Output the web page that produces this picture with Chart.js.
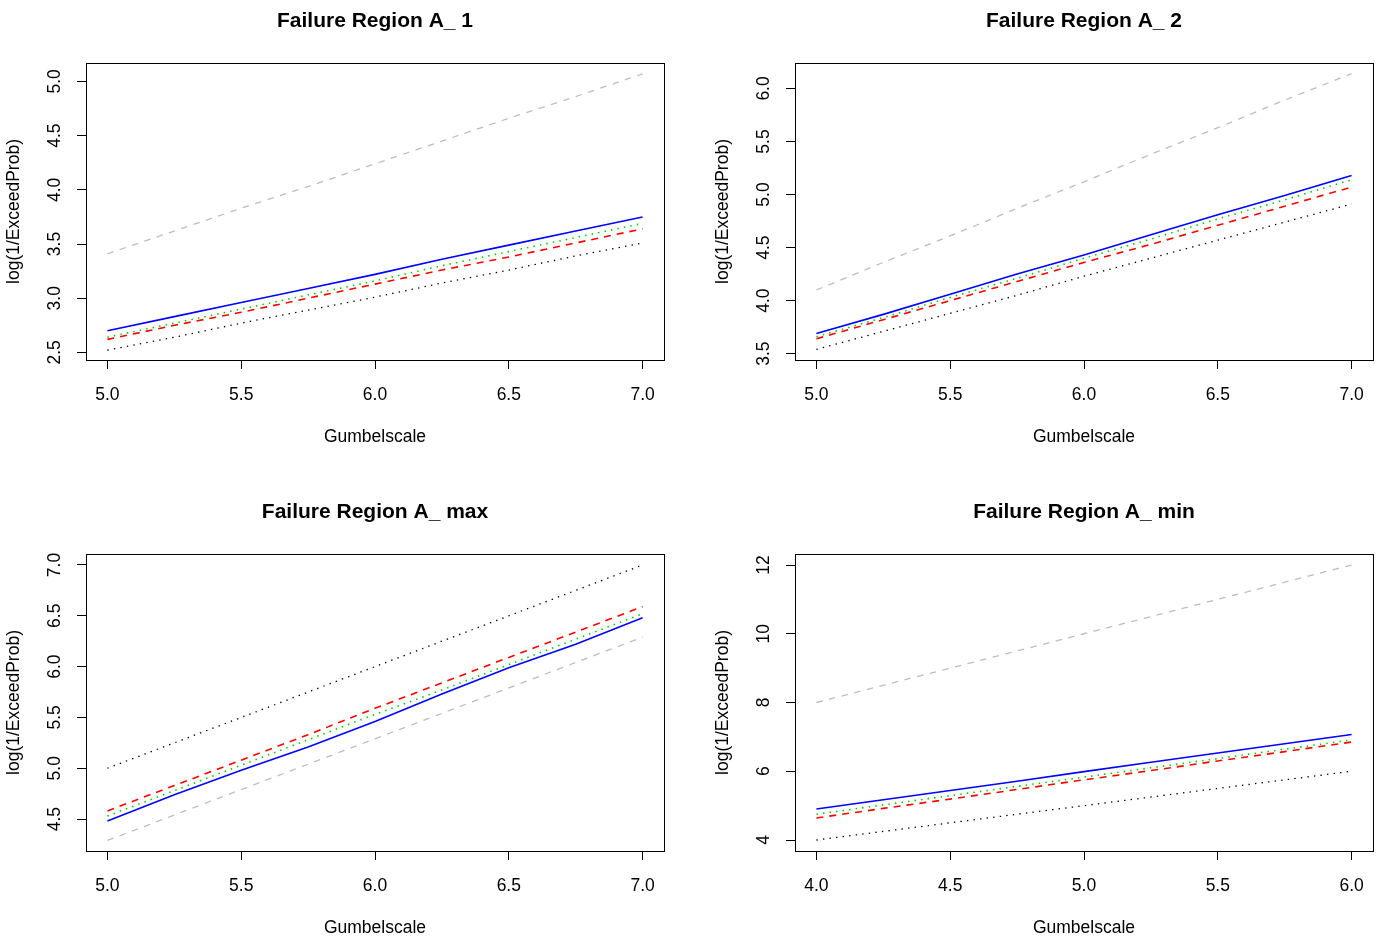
<!DOCTYPE html>
<html>
<head>
<meta charset="utf-8">
<script src="https://cdn.jsdelivr.net/npm/chart.js@4.4.1/dist/chart.umd.min.js"></script>
<style>
  body { margin: 0; background: #fff; width: 1381px; height: 939px; overflow: hidden; position: relative; }
  canvas { position: absolute; }
</style>
</head>
<body>
<canvas id="g1" width="690" height="448" style="left:0;top:0"></canvas>
<canvas id="g2" width="690" height="448" style="left:709px;top:0"></canvas>
<canvas id="g3" width="690" height="448" style="left:0;top:491px"></canvas>
<canvas id="g4" width="690" height="448" style="left:709px;top:491px"></canvas>
<script>
// Gumbel scale values along x
const escala = [5.0, 5.25, 5.5, 5.75, 6.0, 6.25, 6.5, 6.75, 7.0];
const escala_min = [4.0, 4.25, 4.5, 4.75, 5.0, 5.25, 5.5, 5.75, 6.0];

const ticks_x = [5.0, 5.5, 6.0, 6.5, 7.0];
const ticks_x_min = [4.0, 4.5, 5.0, 5.5, 6.0];
const ticks_y1 = [2.5, 3.0, 3.5, 4.0, 4.5, 5.0];
const ticks_y2 = [3.5, 4.0, 4.5, 5.0, 5.5, 6.0];
const ticks_y3 = [4.5, 5.0, 5.5, 6.0, 6.5, 7.0];
const ticks_y4 = [4, 6, 8, 10, 12];

// A_ 1
const a1_gris = [3.41, 3.62, 3.83, 4.03, 4.24, 4.45, 4.66, 4.86, 5.07];
const a1_azul = [2.70, 2.83, 2.96, 3.09, 3.22, 3.36, 3.49, 3.62, 3.75];
const a1_verde = [2.64, 2.77, 2.90, 3.03, 3.16, 3.30, 3.43, 3.56, 3.69];
const a1_rojo = [2.62, 2.75, 2.87, 3.00, 3.13, 3.26, 3.38, 3.51, 3.64];
const a1_negro = [2.52, 2.64, 2.77, 2.89, 3.01, 3.14, 3.26, 3.39, 3.51];

// A_ 2
const a2_gris = [4.10, 4.36, 4.61, 4.87, 5.12, 5.38, 5.63, 5.89, 6.14];
const a2_azul = [3.69, 3.87, 4.06, 4.25, 4.43, 4.62, 4.81, 4.99, 5.18];
const a2_verde = [3.66, 3.84, 4.03, 4.21, 4.40, 4.58, 4.77, 4.95, 5.14];
const a2_rojo = [3.64, 3.82, 4.00, 4.18, 4.36, 4.53, 4.71, 4.89, 5.07];
const a2_negro = [3.54, 3.71, 3.88, 4.05, 4.23, 4.40, 4.57, 4.74, 4.91];

// A_ max
const amax_gris = [4.29, 4.54, 4.79, 5.04, 5.29, 5.54, 5.79, 6.04, 6.29];
const amax_azul = [4.48, 4.74, 4.98, 5.21, 5.46, 5.73, 5.99, 6.22, 6.48];
const amax_verde = [4.53, 4.78, 5.03, 5.28, 5.53, 5.77, 6.02, 6.27, 6.52];
const amax_rojo = [4.58, 4.83, 5.08, 5.33, 5.59, 5.84, 6.09, 6.34, 6.59];
const amax_negro = [5.00, 5.25, 5.50, 5.75, 6.00, 6.25, 6.50, 6.75, 7.00];

// A_ min
const amin_gris = [8.0, 8.5, 9.0, 9.5, 10.0, 10.5, 11.0, 11.5, 12.0];
const amin_azul = [4.90, 5.17, 5.44, 5.71, 5.99, 6.26, 6.53, 6.80, 7.07];
const amin_verde = [4.75, 5.02, 5.29, 5.56, 5.83, 6.10, 6.37, 6.64, 6.91];
const amin_rojo = [4.64, 4.92, 5.19, 5.47, 5.75, 6.02, 6.30, 6.57, 6.85];
const amin_negro = [4.00, 4.25, 4.50, 4.75, 5.00, 5.25, 5.50, 5.75, 6.00];

const FUENTE = '"Liberation Sans", Arial, Helvetica, sans-serif';

function puntos(xs, ys) {
    return xs.map((x, i) => ({ x: x, y: ys[i] }));
}

// box around the plot region plus rotated y tick labels
const marco = {
    id: 'marco',
    afterDraw(chart, args, opts) {
        const ctx = chart.ctx;
        const a = chart.chartArea;
        const ejeY = chart.scales.y;
        ctx.save();
        ctx.strokeStyle = '#000';
        ctx.lineWidth = 1;
        ctx.strokeRect(Math.round(a.left) + 0.5, Math.round(a.top) + 0.5,
            Math.round(a.right - a.left), Math.round(a.bottom - a.top));
        ctx.fillStyle = '#000';
        ctx.font = '17.5px ' + FUENTE;
        ctx.textAlign = 'center';
        ctx.textBaseline = 'alphabetic';
        opts.etiquetas.forEach(v => {
            const py = ejeY.getPixelForValue(v);
            ctx.save();
            ctx.translate(a.left - 26, py);
            ctx.rotate(-Math.PI / 2);
            ctx.fillText(opts.formato(v), 0, 0);
            ctx.restore();
        });
        ctx.restore();
    }
};

function serie(data, color, ancho, guion) {
    return {
        data: data,
        borderColor: color,
        backgroundColor: color,
        borderWidth: ancho,
        borderDash: guion,
        pointRadius: 0,
        tension: 0,
        fill: false
    };
}

function grafico_region(id, titulo, xs, ys, tx, ty, xlim, ylim, formatoY) {
    const grafico = document.getElementById(id).getContext('2d');
    new Chart(grafico, {
        type: 'line',
        data: {
            datasets: [
                serie(puntos(xs, ys[0]), '#bebebe', 1.3, [6.5, 6.5]),
                serie(puntos(xs, ys[4]), '#000000', 1.3, [1.4, 5.2]),
                serie(puntos(xs, ys[2]), '#00d000', 1.6, [1.5, 5.1]),
                serie(puntos(xs, ys[3]), '#ff0000', 1.6, [7, 6]),
                serie(puntos(xs, ys[1]), '#0000ff', 1.6, [])
            ]
        },
        options: {
            responsive: false,
            animation: false,
            layout: { padding: { left: 0, top: 0, right: 26, bottom: 0 } },
            plugins: {
                legend: { display: false },
                tooltip: { enabled: false },
                title: {
                    display: true,
                    text: titulo,
                    fullSize: false,
                    color: '#000',
                    font: { family: FUENTE, size: 21, weight: 'bold' },
                    padding: { top: 8.4, bottom: 29.4 }
                },
                marco: { etiquetas: ty, formato: formatoY }
            },
            scales: {
                x: {
                    type: 'linear',
                    min: xlim[0],
                    max: xlim[1],
                    afterBuildTicks: s => { s.ticks = tx.map(v => ({ value: v })); },
                    afterFit: s => { s.height = 88; },
                    grid: { drawOnChartArea: false, drawTicks: true, tickLength: 9, color: '#000' },
                    border: { display: true, color: '#000' },
                    ticks: {
                        color: '#000',
                        padding: 16,
                        maxRotation: 0,
                        font: { family: FUENTE, size: 17.5 },
                        callback: v => v.toFixed(1)
                    },
                    title: {
                        display: true,
                        text: 'Gumbelscale',
                        color: '#000',
                        font: { family: FUENTE, size: 17.5 },
                        padding: { top: 0, bottom: 0 }
                    }
                },
                y: {
                    type: 'linear',
                    min: ylim[0],
                    max: ylim[1],
                    afterBuildTicks: s => { s.ticks = ty.map(v => ({ value: v })); },
                    afterFit: s => { s.width = 86; },
                    grid: { drawOnChartArea: false, drawTicks: true, tickLength: 9, color: '#000' },
                    border: { display: true, color: '#000' },
                    ticks: { display: false },
                    title: {
                        display: true,
                        text: 'log(1/ExceedProb)',
                        color: '#000',
                        font: { family: FUENTE, size: 17.5 },
                        padding: { top: 3.5, bottom: 0 }
                    }
                }
            }
        },
        plugins: [marco]
    });
}

const uno = v => v.toFixed(1);
const entero = v => String(v);

grafico_region('g1', 'Failure Region A_ 1', escala,
    [a1_gris, a1_azul, a1_verde, a1_rojo, a1_negro], ticks_x, ticks_y1, [4.92, 7.08], [2.43, 5.17], uno);
grafico_region('g2', 'Failure Region A_ 2', escala,
    [a2_gris, a2_azul, a2_verde, a2_rojo, a2_negro], ticks_x, ticks_y2, [4.92, 7.08], [3.44, 6.24], uno);
grafico_region('g3', 'Failure Region A_ max', escala,
    [amax_gris, amax_azul, amax_verde, amax_rojo, amax_negro], ticks_x, ticks_y3, [4.92, 7.08], [4.186, 7.108], uno);
grafico_region('g4', 'Failure Region A_ min', escala_min,
    [amin_gris, amin_azul, amin_verde, amin_rojo, amin_negro], ticks_x_min, ticks_y4, [3.92, 6.08], [3.68, 12.32], entero);
</script>
</body>
</html>
